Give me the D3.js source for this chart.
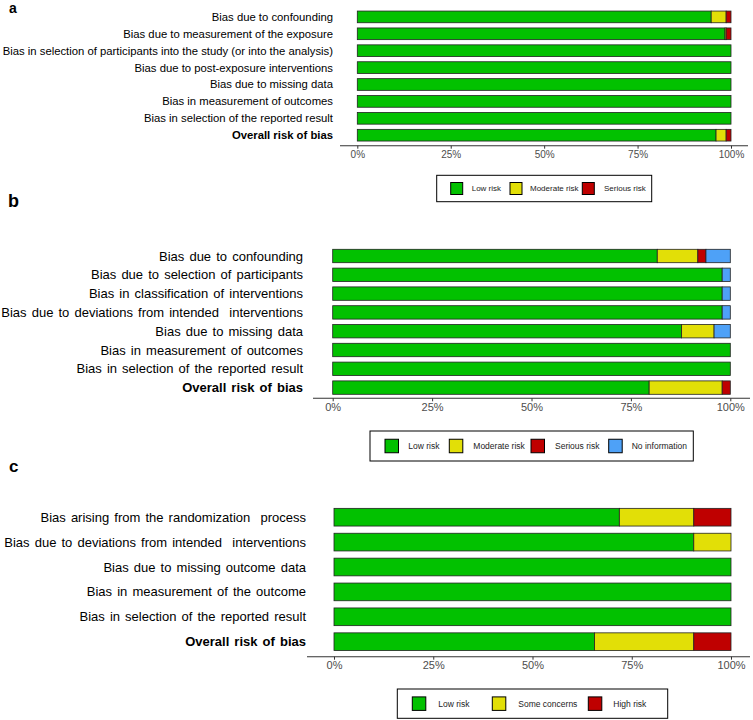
<!DOCTYPE html>
<html>
<head>
<meta charset="utf-8">
<script src="https://cdn.jsdelivr.net/npm/d3@7"></script>
<style>
  body { margin: 0; background: #fff; }
  svg { font-family: "Liberation Sans", Arial, sans-serif; }
  .domain-label { fill: #000; }
  .tick text { fill: #4d4d4d; }
  .tick line { stroke: #333; }
</style>
</head>
<body>
<script>
const WIDTH = 753;
const HEIGHT = 720;

// panel a (ROBINS-E)
const domainsA = ["Bias due to confounding", "Bias due to measurement of the exposure",
  "Bias in selection of participants into the study (or into the analysis)",
  "Bias due to post-exposure interventions", "Bias due to missing data",
  "Bias in measurement of outcomes", "Bias in selection of the reported result", "Overall risk of bias"];
const lowA = [94.7, 98.4, 100, 100, 100, 100, 100, 96.0];
const moderateA = [4.0, 0.3, 0, 0, 0, 0, 0, 2.7];
const seriousA = [1.3, 1.3, 0, 0, 0, 0, 0, 1.3];
const legendA = ["Low risk", "Moderate risk", "Serious risk"];

// panel b (ROBINS-I), n = 49
const domainsB = ["Bias due to confounding", "Bias due to selection of participants",
  "Bias in classification of interventions", "Bias due to deviations from intended  interventions",
  "Bias due to missing data", "Bias in measurement of outcomes",
  "Bias in selection of the reported result", "Overall risk of bias"];
const lowB = [40, 48, 48, 48, 43, 49, 49, 39];
const moderateB = [5, 0, 0, 0, 4, 0, 0, 9];
const seriousB = [1, 0, 0, 0, 0, 0, 0, 1];
const noInfoB = [3, 1, 1, 1, 2, 0, 0, 0];
const legendB = ["Low risk", "Moderate risk", "Serious risk", "No information"];

// panel c (RoB 2), n = 32
const domainsC = ["Bias arising from the randomization  process", "Bias due to deviations from intended  interventions",
  "Bias due to missing outcome data", "Bias in measurement of the outcome",
  "Bias in selection of the reported result", "Overall risk of bias"];
const lowC = [23, 29, 32, 32, 32, 21];
const someC = [6, 3, 0, 0, 0, 8];
const highC = [3, 0, 0, 0, 0, 3];
const legendC = ["Low risk", "Some concerns", "High risk"];

const tickVals = [0, 25, 50, 75, 100];
const COLORS = ["#02C100", "#E2DF07", "#BF0000", "#4EA1F7"];

var svg = d3.select('body').append('svg')
  .attr('width', WIDTH).attr('height', HEIGHT);

var toRows = function(domains, series){
  return domains.map(function(d, i){
    var total = d3.sum(series, function(s){ return s[i]; });
    var row = {domain: d};
    series.forEach(function(s, k){ row['k' + k] = s[i] / total * 100; });
    return row;
  });
};

var drawPanel = function(p){
  var g = svg.append('g');
  var keys = p.series.map(function(s, k){ return 'k' + k; });
  var rows = toRows(p.domains, p.series);

  var x = d3.scaleLinear().domain([0, 100]).range([p.x0, p.x1]);
  var n = p.domains.length;
  var pad = 1 - p.barH / p.step;
  var y = d3.scaleBand().domain(p.domains)
    .range([p.firstY - p.step / 2, p.firstY - p.step / 2 + n * p.step])
    .paddingInner(pad).paddingOuter(pad / 2);

  g.append('text').attr('x', p.titleX).attr('y', p.titleY)
    .attr('font-size', p.titleSize).attr('font-weight', 'bold').text(p.title);

  // domain labels
  g.selectAll('text.domain-label').data(p.domains).enter().append('text')
    .attr('class', 'domain-label')
    .attr('x', p.labelX)
    .attr('y', function(d){ return y(d) + y.bandwidth() / 2; })
    .attr('dy', '0.35em')
    .attr('text-anchor', 'end')
    .attr('font-size', p.labelSize)
    .attr('word-spacing', p.wordSpacing)
    .attr('font-weight', function(d){ return d === 'Overall risk of bias' ? 'bold' : 'normal'; })
    .style('white-space', 'pre')
    .text(function(d){ return d; });

  var stacked = d3.stack().keys(keys)(rows);
  g.selectAll('g.layer').data(stacked).enter().append('g')
    .attr('fill', function(d, i){ return COLORS[i]; })
    .selectAll('rect').data(function(d){ return d; }).enter()
    .filter(function(d){ return d[1] - d[0] > 0; })
    .append('rect')
    .attr('x', function(d){ return x(d[0]); })
    .attr('width', function(d){ return x(d[1]) - x(d[0]); })
    .attr('y', function(d){ return y(d.data.domain); })
    .attr('height', y.bandwidth())
    .attr('stroke', '#222').attr('stroke-width', 0.8);

  // x axis
  var axis = g.append('g').attr('transform', 'translate(0,' + p.axisY + ')')
    .call(d3.axisBottom(x).tickValues(tickVals).tickSize(3).tickPadding(2)
      .tickFormat(function(d){ return d + '%'; }));
  axis.select('.domain').remove();
  axis.selectAll('.tick text').attr('font-size', p.tickSize).attr('font-family', null);
  g.append('line').attr('x1', p.axisFrom).attr('x2', p.axisTo)
    .attr('y1', p.axisY).attr('y2', p.axisY)
    .attr('stroke', '#333').attr('stroke-width', 1.1);

  // legend
  var L = p.legend;
  g.append('rect').attr('x', L.x).attr('y', L.y).attr('width', L.w).attr('height', L.h)
    .attr('fill', 'none').attr('stroke', '#000').attr('stroke-width', 1);
  var items = g.selectAll('g.item').data(p.legendLabels).enter().append('g')
    .attr('transform', function(d, i){ return 'translate(' + L.sx[i] + ',' + (L.y + L.h / 2) + ')'; });
  items.append('rect').attr('x', 0).attr('y', -L.sq / 2).attr('width', L.sq).attr('height', L.sq)
    .attr('fill', function(d, i){ return COLORS[i]; })
    .attr('stroke', '#000').attr('stroke-width', 1);
  items.append('text').attr('x', function(d, i){ return L.tx[i] - L.sx[i]; })
    .attr('dy', '0.35em').attr('font-size', L.fs).attr('fill', '#222')
    .text(function(d){ return d; });
};

drawPanel({
  title: 'a', titleX: 9, titleY: 13, titleSize: 14,
  domains: domainsA, series: [lowA, moderateA, seriousA],
  x0: 357.3, x1: 731, firstY: 16.9, step: 16.9, barH: 11.7,
  labelX: 333, labelSize: 11.3, wordSpacing: 0,
  axisY: 145.7, axisFrom: 340, axisTo: 748, tickSize: 10,
  legendLabels: legendA,
  legend: {x: 436.7, y: 175.3, w: 215, h: 26.4, sq: 12, fs: 8,
    sx: [450.7, 510, 582.3], tx: [471.7, 530, 604]}
});

drawPanel({
  title: 'b', titleX: 8, titleY: 207, titleSize: 18,
  domains: domainsB, series: [lowB, moderateB, seriousB, noInfoB],
  x0: 332.7, x1: 730.3, firstY: 256, step: 18.8, barH: 13.4,
  labelX: 303, labelSize: 13, wordSpacing: 1.5,
  axisY: 398.3, axisFrom: 313, axisTo: 750, tickSize: 11,
  legendLabels: legendB,
  legend: {x: 370, y: 431, w: 323.3, h: 30, sq: 13.5, fs: 8.5,
    sx: [385, 449.3, 531, 608.7], tx: [408.3, 473.3, 555, 631.7]}
});

drawPanel({
  title: 'c', titleX: 9, titleY: 472, titleSize: 17,
  domains: domainsC, series: [lowC, someC, highC],
  x0: 334, x1: 731, firstY: 517.2, step: 24.9, barH: 17.7,
  labelX: 306, labelSize: 13, wordSpacing: 1.5,
  axisY: 656.7, axisFrom: 307, axisTo: 750, tickSize: 11,
  legendLabels: legendC,
  legend: {x: 397.3, y: 689, w: 270.4, h: 29.3, sq: 13.5, fs: 8.5,
    sx: [412.3, 492.3, 588.3], tx: [438.3, 518.3, 613.3]}
});
</script>
</body>
</html>
